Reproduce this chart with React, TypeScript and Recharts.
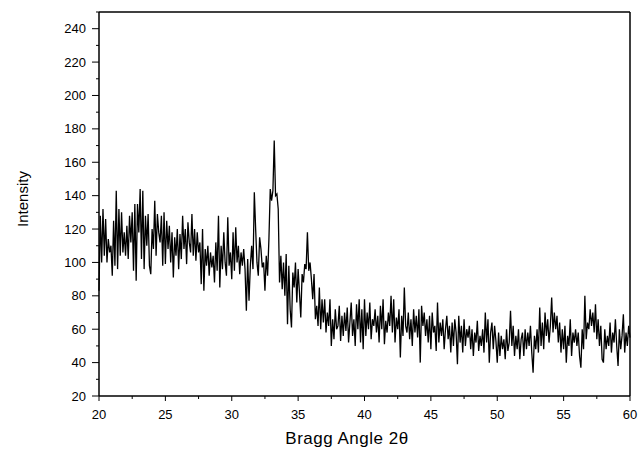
import React from 'react';
import { LineChart, Line, XAxis, YAxis, ReferenceLine } from 'recharts';

// 2theta starts at 20 and goes up in 0.1 steps
const angleStart = 20;
const angleStep = 0.1;

// intensity, one row per degree (20.0 .. 59.9), then 60.0
const intensity = [
  83, 128, 100, 132, 104, 126, 100, 114, 106, 110,
  92, 125, 98, 143, 96, 132, 104, 130, 106, 118,
  104, 122, 102, 128, 112, 130, 95, 135, 89, 135,
  118, 144, 102, 143, 96, 128, 110, 129, 98, 93,
  120, 108, 137, 104, 129, 118, 112, 128, 98, 130,
  99, 125, 108, 122, 100, 118, 91, 115, 104, 120,
  96, 117, 102, 128, 108, 120, 99, 124, 112, 106,
  129, 104, 120, 101, 118, 106, 112, 87, 120, 83,
  108, 98, 110, 92, 106, 97, 104, 88, 112, 95,
  128, 85, 110, 96, 118, 100, 92, 127, 98, 106,
  90, 118, 95, 121, 100, 110, 93, 106, 98, 108,
  96, 71, 102, 77, 98, 110, 96, 142, 120, 100,
  92, 115, 108, 97, 100, 83, 104, 92, 114, 144,
  137, 143, 173, 140, 141, 132, 88, 104, 84, 100,
  80, 105, 63, 98, 72, 61, 94, 85, 100, 76,
  96, 82, 67, 93, 88, 99, 96, 118, 95, 100,
  90, 78, 93, 66, 74, 62, 85, 60, 78, 64,
  78, 58, 70, 62, 78, 50, 66, 54, 72, 60,
  62, 74, 53, 68, 56, 70, 59, 73, 52, 64,
  76, 56, 66, 50, 75, 60, 78, 52, 72, 48,
  78, 56, 70, 60, 76, 54, 66, 62, 72, 58,
  68, 52, 74, 60, 78, 51, 65, 58, 70, 62,
  80, 58, 78, 52, 67, 60, 72, 43, 68, 56,
  85, 62, 58, 70, 54, 66, 50, 72, 58, 68,
  55, 72, 40, 74, 62, 70, 56, 66, 52, 68,
  48, 70, 58, 62, 47, 76, 52, 64, 56, 66,
  48, 60, 68, 54, 62, 46, 64, 50, 66, 58,
  39, 68, 52, 62, 46, 66, 50, 60, 55, 62,
  48, 60, 44, 58, 52, 65, 47, 56, 50, 60,
  46, 70, 52, 66, 40, 58, 64, 48, 62, 53,
  40, 58, 44, 56, 48, 54, 42, 60, 47, 52,
  71, 50, 62, 44, 56, 48, 60, 42, 54, 58,
  44, 60, 48, 58, 50, 62, 46, 34, 56, 48,
  60, 46, 73, 50, 64, 48, 70, 56, 66, 52,
  62, 79, 58, 70, 60, 68, 52, 64, 46, 60,
  48, 62, 40, 56, 50, 66, 44, 58, 52, 60,
  50, 58, 44, 37, 60, 48, 80, 54, 64, 60,
  72, 62, 70, 58, 75, 54, 66, 50, 62, 42,
  40, 60, 48, 56, 50, 64, 46, 58, 52, 66,
  50, 38, 60, 48, 56, 69, 46, 58, 50, 62,
  55,
];

const xTicks = [20, 22.5, 25, 27.5, 30, 32.5, 35, 37.5, 40, 42.5, 45, 47.5, 50, 52.5, 55, 57.5, 60];
const yTicks = [20, 30, 40, 50, 60, 70, 80, 90, 100, 110, 120, 130, 140, 150, 160, 170, 180, 190, 200, 210, 220, 230, 240, 250];

const data = intensity.map((v, i) => ({
  angle: Math.round((angleStart + i * angleStep) * 10) / 10,
  value: v,
}));

const font = '"Liberation Sans", Arial, sans-serif';

// ticks drawn by hand so minor ones are shorter and unlabeled
const XTick = (props: any) => {
  const { x, y, payload } = props;
  const major = payload.value % 5 === 0;
  return (
    <g>
      <line x1={x} x2={x} y1={y} y2={y + (major ? 5 : 3)} stroke="#000" strokeWidth={1} />
      {major && (
        <text x={x} y={y + 23} textAnchor="middle" fontSize={13} fontFamily={font} fill="#000">
          {payload.value}
        </text>
      )}
    </g>
  );
};

const YTick = (props: any) => {
  const { x, y, payload } = props;
  const major = payload.value % 20 === 0;
  return (
    <g>
      <line x1={x} x2={x - (major ? 7 : 3)} y1={y} y2={y} stroke="#000" strokeWidth={1} />
      {major && payload.value <= 240 && (
        <text x={x - 13} y={y + 4.5} textAnchor="end" fontSize={13} fontFamily={font} fill="#000">
          {payload.value}
        </text>
      )}
    </g>
  );
};

export default function App() {
  return (
    <div style={{ position: 'absolute', left: 0, top: 0, width: 641, height: 450, background: '#fff' }}>
      <LineChart width={641} height={450} data={data} margin={{ top: 12, right: 11, bottom: 0, left: 0 }}>
        <XAxis
          dataKey="angle"
          type="number"
          domain={[20, 60]}
          ticks={xTicks}
          interval={0}
          height={54}
          tickSize={0}
          tickMargin={0}
          tickLine={false}
          tick={<XTick />}
          axisLine={{ stroke: '#000', strokeWidth: 1.5 }}
        />
        <YAxis
          type="number"
          domain={[20, 250]}
          ticks={yTicks}
          interval={0}
          width={99}
          tickSize={0}
          tickMargin={0}
          tickLine={false}
          tick={<YTick />}
          axisLine={{ stroke: '#000', strokeWidth: 1.5 }}
        />
        <ReferenceLine y={250} stroke="#000" strokeWidth={1.5} />
        <ReferenceLine x={60} stroke="#000" strokeWidth={1.5} />
        <Line
          type="linear"
          dataKey="value"
          stroke="#000"
          strokeWidth={1.3}
          dot={false}
          isAnimationActive={false}
        />
      </LineChart>
      <div
        style={{
          position: 'absolute',
          left: 22,
          top: 199,
          transform: 'translate(-50%, -50%) rotate(-90deg)',
          fontFamily: font,
          fontSize: 15,
          whiteSpace: 'nowrap',
        }}
      >
        Intensity
      </div>
      <div
        style={{
          position: 'absolute',
          left: 347,
          top: 439,
          transform: 'translate(-50%, -50%)',
          fontFamily: font,
          fontSize: 17,
          letterSpacing: 0.5,
          whiteSpace: 'nowrap',
        }}
      >
        Bragg Angle 2θ
      </div>
    </div>
  );
}
